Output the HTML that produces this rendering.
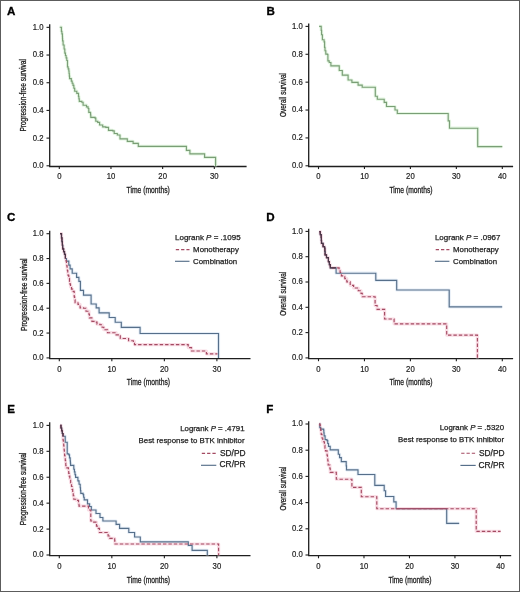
<!DOCTYPE html>
<html><head><meta charset="utf-8"><style>
html,body{margin:0;padding:0;background:#fff;}
body{width:520px;height:592px;overflow:hidden;}
svg{display:block;will-change:transform;}
text{font-family:"Liberation Sans",sans-serif;fill:#222;}
.tk{font-size:8.8px;stroke:#222;stroke-width:0.2px;}
.lg{font-size:7.85px;stroke:#222;stroke-width:0.25px;}
.lg2{font-size:8.4px;stroke:#222;stroke-width:0.25px;}
.tt{font-size:8.9px;stroke:#222;stroke-width:0.3px;}
.pl{font-size:11.6px;font-weight:bold;fill:#000;stroke:#000;stroke-width:0.3px;}
</style></head><body>
<svg width="520" height="592" viewBox="0 0 520 592">
<rect x="0" y="0" width="520" height="592" fill="#fff"/>
<g id="pA">
<path d="M49.70 24.20 V166.50 H246.60" fill="none" stroke="#1e1e1e" stroke-width="1.3"/>
<path d="M46.50 165.80 H49.70" stroke="#1e1e1e" stroke-width="1.1"/>
<text class="tk" transform="translate(43.50 168.25) scale(0.88 1)" text-anchor="end">0.0</text>
<path d="M46.50 138.11 H49.70" stroke="#1e1e1e" stroke-width="1.1"/>
<text class="tk" transform="translate(43.50 140.56) scale(0.88 1)" text-anchor="end">0.2</text>
<path d="M46.50 110.42 H49.70" stroke="#1e1e1e" stroke-width="1.1"/>
<text class="tk" transform="translate(43.50 112.87) scale(0.88 1)" text-anchor="end">0.4</text>
<path d="M46.50 82.73 H49.70" stroke="#1e1e1e" stroke-width="1.1"/>
<text class="tk" transform="translate(43.50 85.18) scale(0.88 1)" text-anchor="end">0.6</text>
<path d="M46.50 55.04 H49.70" stroke="#1e1e1e" stroke-width="1.1"/>
<text class="tk" transform="translate(43.50 57.49) scale(0.88 1)" text-anchor="end">0.8</text>
<path d="M46.50 27.35 H49.70" stroke="#1e1e1e" stroke-width="1.1"/>
<text class="tk" transform="translate(43.50 29.80) scale(0.88 1)" text-anchor="end">1.0</text>
<path d="M59.30 166.50 V169.10" stroke="#1e1e1e" stroke-width="1.1"/>
<text class="tk" transform="translate(59.30 179.40) scale(0.88 1)" text-anchor="middle">0</text>
<path d="M110.97 166.50 V169.10" stroke="#1e1e1e" stroke-width="1.1"/>
<text class="tk" transform="translate(110.97 179.40) scale(0.88 1)" text-anchor="middle">10</text>
<path d="M162.64 166.50 V169.10" stroke="#1e1e1e" stroke-width="1.1"/>
<text class="tk" transform="translate(162.64 179.40) scale(0.88 1)" text-anchor="middle">20</text>
<path d="M214.31 166.50 V169.10" stroke="#1e1e1e" stroke-width="1.1"/>
<text class="tk" transform="translate(214.31 179.40) scale(0.88 1)" text-anchor="middle">30</text>
<text class="tt" x="148.20" y="192.80" text-anchor="middle" textLength="43.2" lengthAdjust="spacingAndGlyphs">Time (months)</text>
<text class="tt" transform="translate(26.30 95.35) rotate(-90)" x="0" y="0" text-anchor="middle" textLength="72.5" lengthAdjust="spacingAndGlyphs">Progression-free survival</text>
<text class="pl" x="6.90" y="15.40">A</text>
<path d="M59.70 27.20 H61.40 V31.40 H61.90 V33.80 H62.40 V36.20 H62.50 V38.55 H62.60 V40.90 H63.10 V45.00 H64.10 V49.00 H64.80 V53.10 H65.45 V55.45 H66.10 V57.80 H66.80 V60.50 H67.50 V63.20 V66.80 H68.15 V68.90 H68.80 V71.00 H69.07 V73.53 H69.33 V76.07 H69.60 V78.60 H71.30 V81.10 H72.15 V83.20 H73.00 V85.30 H73.85 V88.25 H74.70 V91.20 H76.80 V93.40 H78.50 V96.30 H78.90 V98.85 H79.30 V101.40 H81.80 V102.20 H83.10 V105.20 H86.50 V106.90 H88.10 V108.50 H88.80 V112.30 H90.40 V112.70 H90.60 V115.00 H90.80 V117.30 H95.00 V118.10 H95.80 V121.20 H97.70 V122.30 H99.60 V125.00 H102.70 V126.90 H105.80 V127.30 H108.50 V130.40 H112.70 V130.80 H114.20 V133.50 H117.30 V135.00 H120.00 V138.80 H127.30 V139.20 V141.30 H133.10 V143.30 H138.30 V146.40 H186.40 V150.30 H189.90 V153.80 H204.60 V157.40 H215.60 V166.30" fill="none" stroke="#e4f6e2" stroke-width="3.2" stroke-linejoin="round"/>
<path d="M59.70 27.20 H61.40 V31.40 H61.90 V33.80 H62.40 V36.20 H62.50 V38.55 H62.60 V40.90 H63.10 V45.00 H64.10 V49.00 H64.80 V53.10 H65.45 V55.45 H66.10 V57.80 H66.80 V60.50 H67.50 V63.20 V66.80 H68.15 V68.90 H68.80 V71.00 H69.07 V73.53 H69.33 V76.07 H69.60 V78.60 H71.30 V81.10 H72.15 V83.20 H73.00 V85.30 H73.85 V88.25 H74.70 V91.20 H76.80 V93.40 H78.50 V96.30 H78.90 V98.85 H79.30 V101.40 H81.80 V102.20 H83.10 V105.20 H86.50 V106.90 H88.10 V108.50 H88.80 V112.30 H90.40 V112.70 H90.60 V115.00 H90.80 V117.30 H95.00 V118.10 H95.80 V121.20 H97.70 V122.30 H99.60 V125.00 H102.70 V126.90 H105.80 V127.30 H108.50 V130.40 H112.70 V130.80 H114.20 V133.50 H117.30 V135.00 H120.00 V138.80 H127.30 V139.20 V141.30 H133.10 V143.30 H138.30 V146.40 H186.40 V150.30 H189.90 V153.80 H204.60 V157.40 H215.60 V166.30" fill="none" stroke="#7a9e76" stroke-width="1.15"/>
</g>
<g id="pB">
<path d="M308.70 23.50 V166.50 H513.10" fill="none" stroke="#1e1e1e" stroke-width="1.3"/>
<path d="M305.50 165.80 H308.70" stroke="#1e1e1e" stroke-width="1.1"/>
<text class="tk" transform="translate(302.70 168.25) scale(0.88 1)" text-anchor="end">0.0</text>
<path d="M305.50 137.92 H308.70" stroke="#1e1e1e" stroke-width="1.1"/>
<text class="tk" transform="translate(302.70 140.37) scale(0.88 1)" text-anchor="end">0.2</text>
<path d="M305.50 110.04 H308.70" stroke="#1e1e1e" stroke-width="1.1"/>
<text class="tk" transform="translate(302.70 112.49) scale(0.88 1)" text-anchor="end">0.4</text>
<path d="M305.50 82.16 H308.70" stroke="#1e1e1e" stroke-width="1.1"/>
<text class="tk" transform="translate(302.70 84.61) scale(0.88 1)" text-anchor="end">0.6</text>
<path d="M305.50 54.28 H308.70" stroke="#1e1e1e" stroke-width="1.1"/>
<text class="tk" transform="translate(302.70 56.73) scale(0.88 1)" text-anchor="end">0.8</text>
<path d="M305.50 26.40 H308.70" stroke="#1e1e1e" stroke-width="1.1"/>
<text class="tk" transform="translate(302.70 28.85) scale(0.88 1)" text-anchor="end">1.0</text>
<path d="M318.50 166.50 V169.10" stroke="#1e1e1e" stroke-width="1.1"/>
<text class="tk" transform="translate(318.50 179.40) scale(0.88 1)" text-anchor="middle">0</text>
<path d="M364.45 166.50 V169.10" stroke="#1e1e1e" stroke-width="1.1"/>
<text class="tk" transform="translate(364.45 179.40) scale(0.88 1)" text-anchor="middle">10</text>
<path d="M410.40 166.50 V169.10" stroke="#1e1e1e" stroke-width="1.1"/>
<text class="tk" transform="translate(410.40 179.40) scale(0.88 1)" text-anchor="middle">20</text>
<path d="M456.35 166.50 V169.10" stroke="#1e1e1e" stroke-width="1.1"/>
<text class="tk" transform="translate(456.35 179.40) scale(0.88 1)" text-anchor="middle">30</text>
<path d="M502.30 166.50 V169.10" stroke="#1e1e1e" stroke-width="1.1"/>
<text class="tk" transform="translate(502.30 179.40) scale(0.88 1)" text-anchor="middle">40</text>
<text class="tt" x="411.00" y="192.90" text-anchor="middle" textLength="43.2" lengthAdjust="spacingAndGlyphs">Time (months)</text>
<text class="tt" transform="translate(285.60 95.00) rotate(-90)" x="0" y="0" text-anchor="middle" textLength="44.0" lengthAdjust="spacingAndGlyphs">Overall survival</text>
<text class="pl" x="266.50" y="15.40">B</text>
<path d="M319.10 26.40 H321.20 V30.40 H321.60 V34.70 H322.40 V39.70 H324.10 V41.80 H324.60 V47.30 H325.00 V50.70 H325.80 V54.10 H327.50 V54.50 H327.90 V60.90 H329.20 V62.50 H330.90 V65.90 H336.20 H339.25 V70.50 H342.30 V75.10 H345.70 H348.10 V80.00 H351.90 V82.30 H358.10 V85.10 H362.20 V87.20 H375.30 V96.20 H377.30 V99.20 H384.20 V102.30 H386.50 V106.50 H395.00 V110.00 H397.30 V113.50 H448.20 V120.80 H449.50 V128.20 H477.70 V146.60 H502.30" fill="none" stroke="#e4f6e2" stroke-width="3.2" stroke-linejoin="round"/>
<path d="M319.10 26.40 H321.20 V30.40 H321.60 V34.70 H322.40 V39.70 H324.10 V41.80 H324.60 V47.30 H325.00 V50.70 H325.80 V54.10 H327.50 V54.50 H327.90 V60.90 H329.20 V62.50 H330.90 V65.90 H336.20 H339.25 V70.50 H342.30 V75.10 H345.70 H348.10 V80.00 H351.90 V82.30 H358.10 V85.10 H362.20 V87.20 H375.30 V96.20 H377.30 V99.20 H384.20 V102.30 H386.50 V106.50 H395.00 V110.00 H397.30 V113.50 H448.20 V120.80 H449.50 V128.20 H477.70 V146.60 H502.30" fill="none" stroke="#7a9e76" stroke-width="1.15"/>
</g>
<g id="pC">
<path d="M49.70 230.80 V358.60 H250.50" fill="none" stroke="#1e1e1e" stroke-width="1.3"/>
<path d="M46.50 357.90 H49.70" stroke="#1e1e1e" stroke-width="1.1"/>
<text class="tk" transform="translate(43.50 360.35) scale(0.88 1)" text-anchor="end">0.0</text>
<path d="M46.50 333.06 H49.70" stroke="#1e1e1e" stroke-width="1.1"/>
<text class="tk" transform="translate(43.50 335.51) scale(0.88 1)" text-anchor="end">0.2</text>
<path d="M46.50 308.22 H49.70" stroke="#1e1e1e" stroke-width="1.1"/>
<text class="tk" transform="translate(43.50 310.67) scale(0.88 1)" text-anchor="end">0.4</text>
<path d="M46.50 283.38 H49.70" stroke="#1e1e1e" stroke-width="1.1"/>
<text class="tk" transform="translate(43.50 285.83) scale(0.88 1)" text-anchor="end">0.6</text>
<path d="M46.50 258.54 H49.70" stroke="#1e1e1e" stroke-width="1.1"/>
<text class="tk" transform="translate(43.50 260.99) scale(0.88 1)" text-anchor="end">0.8</text>
<path d="M46.50 233.70 H49.70" stroke="#1e1e1e" stroke-width="1.1"/>
<text class="tk" transform="translate(43.50 236.15) scale(0.88 1)" text-anchor="end">1.0</text>
<path d="M59.30 358.60 V361.20" stroke="#1e1e1e" stroke-width="1.1"/>
<text class="tk" transform="translate(59.30 371.50) scale(0.88 1)" text-anchor="middle">0</text>
<path d="M111.83 358.60 V361.20" stroke="#1e1e1e" stroke-width="1.1"/>
<text class="tk" transform="translate(111.83 371.50) scale(0.88 1)" text-anchor="middle">10</text>
<path d="M164.36 358.60 V361.20" stroke="#1e1e1e" stroke-width="1.1"/>
<text class="tk" transform="translate(164.36 371.50) scale(0.88 1)" text-anchor="middle">20</text>
<path d="M216.89 358.60 V361.20" stroke="#1e1e1e" stroke-width="1.1"/>
<text class="tk" transform="translate(216.89 371.50) scale(0.88 1)" text-anchor="middle">30</text>
<text class="tt" x="148.40" y="384.70" text-anchor="middle" textLength="43.2" lengthAdjust="spacingAndGlyphs">Time (months)</text>
<text class="tt" transform="translate(26.60 294.70) rotate(-90)" x="0" y="0" text-anchor="middle" textLength="72.5" lengthAdjust="spacingAndGlyphs">Progression-free survival</text>
<text class="pl" x="6.90" y="220.50">C</text>
<path d="M60.00 233.70 H61.50 V237.90 H61.95 V241.55 H62.40 V245.20 H62.70 V248.80 H63.60 V251.55 H64.50 V254.30 H65.40 V258.50 H66.40 V261.10 H68.80 V265.10 H70.10 V268.90 H72.20 V273.20 H76.60 V277.30 H78.90 V281.40 H80.40 V290.30 H83.50 V295.10 H91.10 V304.00 H96.20 V307.80 H99.10 V312.80 H109.20 V317.50 H115.20 V322.20 H121.30 V327.40 H140.10 V333.50 H218.50 V358.00" fill="none" stroke="#e6eef7" stroke-width="3.2" stroke-linejoin="round"/>
<path d="M60.00 233.70 H61.50 V237.90 H61.95 V241.55 H62.40 V245.20 H62.70 V248.80 H63.60 V251.55 H64.50 V254.30 H65.40 V258.50 H66.10 V261.00 H66.45 V263.40 H66.80 V265.80 H67.10 V268.15 H67.40 V270.50 H67.75 V272.90 H68.10 V275.30 H68.80 V278.35 H69.50 V281.40 H70.00 V284.10 H70.50 V286.80 H71.50 V289.05 H72.50 V291.30 H74.20 V293.40 V296.80 H74.65 V299.75 H75.10 V302.70 H78.00 V304.40 H80.10 V307.80 H83.50 V308.20 H86.00 V311.20 H89.00 V314.50 H89.40 V317.90 H91.90 V321.30 H95.30 V322.10 H97.00 V324.20 H100.00 V324.70 H102.10 V327.20 H103.80 V329.70 H107.50 V330.20 V332.70 H116.10 V334.80 H119.20 V335.90 H120.30 V338.50 H127.90 H128.60 V340.70 H133.40 V341.40 H134.50 V344.60 H188.20 V347.60 H191.50 V351.00 H206.40 V353.80 H217.50" fill="none" stroke="#f9dde5" stroke-width="3.2" stroke-linejoin="round"/>
<path d="M60.00 233.70 H61.50 V237.90 H61.95 V241.55 H62.40 V245.20 H62.70 V248.80 H63.60 V251.55 H64.50 V254.30 H65.40 V258.50 H66.40 V261.10 H68.80 V265.10 H70.10 V268.90 H72.20 V273.20 H76.60 V277.30 H78.90 V281.40 H80.40 V290.30 H83.50 V295.10 H91.10 V304.00 H96.20 V307.80 H99.10 V312.80 H109.20 V317.50 H115.20 V322.20 H121.30 V327.40 H140.10 V333.50 H218.50 V358.00" fill="none" stroke="#566f8a" stroke-width="1.15"/>
<path d="M60.00 233.70 H61.50 V237.90 H61.95 V241.55 H62.40 V245.20 H62.70 V248.80 H63.60 V251.55 H64.50 V254.30 H65.40 V258.50 H66.10 V261.00 H66.45 V263.40 H66.80 V265.80 H67.10 V268.15 H67.40 V270.50 H67.75 V272.90 H68.10 V275.30 H68.80 V278.35 H69.50 V281.40 H70.00 V284.10 H70.50 V286.80 H71.50 V289.05 H72.50 V291.30 H74.20 V293.40 V296.80 H74.65 V299.75 H75.10 V302.70 H78.00 V304.40 H80.10 V307.80 H83.50 V308.20 H86.00 V311.20 H89.00 V314.50 H89.40 V317.90 H91.90 V321.30 H95.30 V322.10 H97.00 V324.20 H100.00 V324.70 H102.10 V327.20 H103.80 V329.70 H107.50 V330.20 V332.70 H116.10 V334.80 H119.20 V335.90 H120.30 V338.50 H127.90 H128.60 V340.70 H133.40 V341.40 H134.50 V344.60 H188.20 V347.60 H191.50 V351.00 H206.40 V353.80 H217.50" fill="none" stroke="#a44a62" stroke-width="1.15" stroke-dasharray="3.4 2"/>
<path d="M60.00 233.70 H61.50 V237.90 H61.95 V241.55 H62.40 V245.20 H62.70 V248.80 H63.60 V251.55 H64.50 V254.30 H65.40 V258.50" fill="none" stroke="#4a3646" stroke-width="1.2"/>
</g>
<g id="pD">
<path d="M308.70 228.70 V358.60 H513.10" fill="none" stroke="#1e1e1e" stroke-width="1.3"/>
<path d="M305.50 357.90 H308.70" stroke="#1e1e1e" stroke-width="1.1"/>
<text class="tk" transform="translate(302.70 360.35) scale(0.88 1)" text-anchor="end">0.0</text>
<path d="M305.50 332.60 H308.70" stroke="#1e1e1e" stroke-width="1.1"/>
<text class="tk" transform="translate(302.70 335.05) scale(0.88 1)" text-anchor="end">0.2</text>
<path d="M305.50 307.30 H308.70" stroke="#1e1e1e" stroke-width="1.1"/>
<text class="tk" transform="translate(302.70 309.75) scale(0.88 1)" text-anchor="end">0.4</text>
<path d="M305.50 282.00 H308.70" stroke="#1e1e1e" stroke-width="1.1"/>
<text class="tk" transform="translate(302.70 284.45) scale(0.88 1)" text-anchor="end">0.6</text>
<path d="M305.50 256.70 H308.70" stroke="#1e1e1e" stroke-width="1.1"/>
<text class="tk" transform="translate(302.70 259.15) scale(0.88 1)" text-anchor="end">0.8</text>
<path d="M305.50 231.40 H308.70" stroke="#1e1e1e" stroke-width="1.1"/>
<text class="tk" transform="translate(302.70 233.85) scale(0.88 1)" text-anchor="end">1.0</text>
<path d="M318.50 358.60 V361.20" stroke="#1e1e1e" stroke-width="1.1"/>
<text class="tk" transform="translate(318.50 371.50) scale(0.88 1)" text-anchor="middle">0</text>
<path d="M364.45 358.60 V361.20" stroke="#1e1e1e" stroke-width="1.1"/>
<text class="tk" transform="translate(364.45 371.50) scale(0.88 1)" text-anchor="middle">10</text>
<path d="M410.40 358.60 V361.20" stroke="#1e1e1e" stroke-width="1.1"/>
<text class="tk" transform="translate(410.40 371.50) scale(0.88 1)" text-anchor="middle">20</text>
<path d="M456.35 358.60 V361.20" stroke="#1e1e1e" stroke-width="1.1"/>
<text class="tk" transform="translate(456.35 371.50) scale(0.88 1)" text-anchor="middle">30</text>
<path d="M502.30 358.60 V361.20" stroke="#1e1e1e" stroke-width="1.1"/>
<text class="tk" transform="translate(502.30 371.50) scale(0.88 1)" text-anchor="middle">40</text>
<text class="tt" x="411.00" y="384.70" text-anchor="middle" textLength="43.2" lengthAdjust="spacingAndGlyphs">Time (months)</text>
<text class="tt" transform="translate(285.60 293.65) rotate(-90)" x="0" y="0" text-anchor="middle" textLength="44.0" lengthAdjust="spacingAndGlyphs">Overall survival</text>
<text class="pl" x="266.30" y="220.50">D</text>
<path d="M319.30 231.60 H320.25 V234.55 H321.20 V237.50 H321.35 V240.40 H321.50 V243.30 H323.10 V246.70 H324.60 V248.10 H324.85 V251.45 H325.10 V254.80 H326.50 V257.70 H328.40 V261.60 H329.35 V264.70 H330.30 V267.80 H336.10 V273.20 H375.80 V280.30 H396.70 V290.00 H449.20 V306.80 H502.20" fill="none" stroke="#e6eef7" stroke-width="3.2" stroke-linejoin="round"/>
<path d="M319.30 231.60 H320.25 V234.55 H321.20 V237.50 H321.35 V240.40 H321.50 V243.30 H323.10 V246.70 H324.60 V248.10 H324.85 V251.45 H325.10 V254.80 H326.50 V257.70 H328.40 V261.60 H329.35 V264.70 H330.30 V267.80 H338.10 H339.10 V270.15 H340.10 V272.50 H341.40 V275.90 H344.80 V278.60 H346.80 V281.90 H350.20 V285.30 H353.60 V288.00 H358.30 V290.70 H361.00 V293.40 H362.30 V296.70 H375.10 V305.50 H377.10 V309.40 H384.60 V319.00 H394.10 V323.80 H446.70 V335.10 H477.40 V358.20" fill="none" stroke="#f9dde5" stroke-width="3.2" stroke-linejoin="round"/>
<path d="M319.30 231.60 H320.25 V234.55 H321.20 V237.50 H321.35 V240.40 H321.50 V243.30 H323.10 V246.70 H324.60 V248.10 H324.85 V251.45 H325.10 V254.80 H326.50 V257.70 H328.40 V261.60 H329.35 V264.70 H330.30 V267.80 H336.10 V273.20 H375.80 V280.30 H396.70 V290.00 H449.20 V306.80 H502.20" fill="none" stroke="#566f8a" stroke-width="1.15"/>
<path d="M319.30 231.60 H320.25 V234.55 H321.20 V237.50 H321.35 V240.40 H321.50 V243.30 H323.10 V246.70 H324.60 V248.10 H324.85 V251.45 H325.10 V254.80 H326.50 V257.70 H328.40 V261.60 H329.35 V264.70 H330.30 V267.80 H338.10 H339.10 V270.15 H340.10 V272.50 H341.40 V275.90 H344.80 V278.60 H346.80 V281.90 H350.20 V285.30 H353.60 V288.00 H358.30 V290.70 H361.00 V293.40 H362.30 V296.70 H375.10 V305.50 H377.10 V309.40 H384.60 V319.00 H394.10 V323.80 H446.70 V335.10 H477.40 V358.20" fill="none" stroke="#a44a62" stroke-width="1.15" stroke-dasharray="3.4 2"/>
<path d="M319.30 231.60 H320.25 V234.55 H321.20 V237.50 H321.35 V240.40 H321.50 V243.30 H323.10 V246.70 H324.60 V248.10 H324.85 V251.45 H325.10 V254.80 H326.50 V257.70 H328.40 V261.60 H329.35 V264.70 H330.30 V267.80 H336.10" fill="none" stroke="#4a3646" stroke-width="1.2"/>
</g>
<g id="pE">
<path d="M49.70 422.20 V555.70 H250.50" fill="none" stroke="#1e1e1e" stroke-width="1.3"/>
<path d="M46.50 555.00 H49.70" stroke="#1e1e1e" stroke-width="1.1"/>
<text class="tk" transform="translate(43.50 557.45) scale(0.88 1)" text-anchor="end">0.0</text>
<path d="M46.50 529.08 H49.70" stroke="#1e1e1e" stroke-width="1.1"/>
<text class="tk" transform="translate(43.50 531.53) scale(0.88 1)" text-anchor="end">0.2</text>
<path d="M46.50 503.16 H49.70" stroke="#1e1e1e" stroke-width="1.1"/>
<text class="tk" transform="translate(43.50 505.61) scale(0.88 1)" text-anchor="end">0.4</text>
<path d="M46.50 477.24 H49.70" stroke="#1e1e1e" stroke-width="1.1"/>
<text class="tk" transform="translate(43.50 479.69) scale(0.88 1)" text-anchor="end">0.6</text>
<path d="M46.50 451.32 H49.70" stroke="#1e1e1e" stroke-width="1.1"/>
<text class="tk" transform="translate(43.50 453.77) scale(0.88 1)" text-anchor="end">0.8</text>
<path d="M46.50 425.40 H49.70" stroke="#1e1e1e" stroke-width="1.1"/>
<text class="tk" transform="translate(43.50 427.85) scale(0.88 1)" text-anchor="end">1.0</text>
<path d="M59.30 555.70 V558.30" stroke="#1e1e1e" stroke-width="1.1"/>
<text class="tk" transform="translate(59.30 568.60) scale(0.88 1)" text-anchor="middle">0</text>
<path d="M111.83 555.70 V558.30" stroke="#1e1e1e" stroke-width="1.1"/>
<text class="tk" transform="translate(111.83 568.60) scale(0.88 1)" text-anchor="middle">10</text>
<path d="M164.36 555.70 V558.30" stroke="#1e1e1e" stroke-width="1.1"/>
<text class="tk" transform="translate(164.36 568.60) scale(0.88 1)" text-anchor="middle">20</text>
<path d="M216.89 555.70 V558.30" stroke="#1e1e1e" stroke-width="1.1"/>
<text class="tk" transform="translate(216.89 568.60) scale(0.88 1)" text-anchor="middle">30</text>
<text class="tt" x="148.40" y="582.50" text-anchor="middle" textLength="43.2" lengthAdjust="spacingAndGlyphs">Time (months)</text>
<text class="tt" transform="translate(26.40 488.95) rotate(-90)" x="0" y="0" text-anchor="middle" textLength="72.5" lengthAdjust="spacingAndGlyphs">Progression-free survival</text>
<text class="pl" x="7.30" y="412.80">E</text>
<path d="M60.30 425.30 H60.97 V428.02 H61.65 V430.75 H62.33 V433.48 H63.00 V436.20 H65.20 V442.20 H67.20 V445.40 V453.80 H68.80 V454.80 H69.50 V457.80 H70.20 V460.80 H70.40 V463.10 H70.60 V465.40 H73.80 V469.20 H74.40 V471.90 H75.00 V474.60 H75.60 V477.30 H77.90 V480.80 H79.05 V484.25 H80.20 V487.70 H80.50 V490.55 H80.80 V493.40 H83.10 V494.60 H83.65 V497.20 H84.20 V499.80 H87.50 V503.90 H89.60 V506.50 H91.30 V510.00 H96.00 V513.50 H100.00 V517.50 H102.90 V521.00 H116.10 V524.40 H119.60 V528.40 H128.80 V532.50 H134.60 V537.00 H140.30 V541.80 H188.30 V545.40 H192.10 V550.40 H207.30 V555.20" fill="none" stroke="#e6eef7" stroke-width="3.2" stroke-linejoin="round"/>
<path d="M60.30 425.30 H60.97 V428.02 H61.65 V430.75 H62.33 V433.48 H63.00 V436.20 V440.00 H63.35 V442.70 H63.70 V445.40 H63.90 V447.70 H64.10 V450.00 H64.35 V452.70 H64.60 V455.40 H64.93 V457.97 H65.27 V460.53 H65.60 V463.10 H65.80 V465.50 H66.00 V467.90 H68.20 H68.45 V470.60 H68.70 V473.30 H69.25 V476.15 H69.80 V479.00 H70.65 V482.75 H71.50 V486.50 H72.10 V489.40 H72.70 V492.30 H73.25 V495.75 H73.80 V499.20 H76.70 V500.40 H78.50 V503.80 H79.00 V506.10 H86.00 H88.50 V510.00 H90.80 V511.10 V521.00 H93.70 V522.10 H96.00 H96.50 V526.10 H98.30 V528.40 H99.40 V532.50 H106.30 H108.10 V536.00 H109.20 V538.30 H114.40 H114.70 V541.15 H115.00 V544.00 H218.60 V555.20" fill="none" stroke="#f9dde5" stroke-width="3.2" stroke-linejoin="round"/>
<path d="M60.30 425.30 H60.97 V428.02 H61.65 V430.75 H62.33 V433.48 H63.00 V436.20 H65.20 V442.20 H67.20 V445.40 V453.80 H68.80 V454.80 H69.50 V457.80 H70.20 V460.80 H70.40 V463.10 H70.60 V465.40 H73.80 V469.20 H74.40 V471.90 H75.00 V474.60 H75.60 V477.30 H77.90 V480.80 H79.05 V484.25 H80.20 V487.70 H80.50 V490.55 H80.80 V493.40 H83.10 V494.60 H83.65 V497.20 H84.20 V499.80 H87.50 V503.90 H89.60 V506.50 H91.30 V510.00 H96.00 V513.50 H100.00 V517.50 H102.90 V521.00 H116.10 V524.40 H119.60 V528.40 H128.80 V532.50 H134.60 V537.00 H140.30 V541.80 H188.30 V545.40 H192.10 V550.40 H207.30 V555.20" fill="none" stroke="#566f8a" stroke-width="1.15"/>
<path d="M60.30 425.30 H60.97 V428.02 H61.65 V430.75 H62.33 V433.48 H63.00 V436.20 V440.00 H63.35 V442.70 H63.70 V445.40 H63.90 V447.70 H64.10 V450.00 H64.35 V452.70 H64.60 V455.40 H64.93 V457.97 H65.27 V460.53 H65.60 V463.10 H65.80 V465.50 H66.00 V467.90 H68.20 H68.45 V470.60 H68.70 V473.30 H69.25 V476.15 H69.80 V479.00 H70.65 V482.75 H71.50 V486.50 H72.10 V489.40 H72.70 V492.30 H73.25 V495.75 H73.80 V499.20 H76.70 V500.40 H78.50 V503.80 H79.00 V506.10 H86.00 H88.50 V510.00 H90.80 V511.10 V521.00 H93.70 V522.10 H96.00 H96.50 V526.10 H98.30 V528.40 H99.40 V532.50 H106.30 H108.10 V536.00 H109.20 V538.30 H114.40 H114.70 V541.15 H115.00 V544.00 H218.60 V555.20" fill="none" stroke="#a44a62" stroke-width="1.15" stroke-dasharray="3.4 2"/>
<path d="M60.30 425.30 H60.97 V428.02 H61.65 V430.75 H62.33 V433.48 H63.00 V436.20" fill="none" stroke="#4a3646" stroke-width="1.2"/>
</g>
<g id="pF">
<path d="M308.70 421.20 V555.70 H511.20" fill="none" stroke="#1e1e1e" stroke-width="1.3"/>
<path d="M305.50 555.00 H308.70" stroke="#1e1e1e" stroke-width="1.1"/>
<text class="tk" transform="translate(302.70 557.45) scale(0.88 1)" text-anchor="end">0.0</text>
<path d="M305.50 528.80 H308.70" stroke="#1e1e1e" stroke-width="1.1"/>
<text class="tk" transform="translate(302.70 531.25) scale(0.88 1)" text-anchor="end">0.2</text>
<path d="M305.50 502.60 H308.70" stroke="#1e1e1e" stroke-width="1.1"/>
<text class="tk" transform="translate(302.70 505.05) scale(0.88 1)" text-anchor="end">0.4</text>
<path d="M305.50 476.40 H308.70" stroke="#1e1e1e" stroke-width="1.1"/>
<text class="tk" transform="translate(302.70 478.85) scale(0.88 1)" text-anchor="end">0.6</text>
<path d="M305.50 450.20 H308.70" stroke="#1e1e1e" stroke-width="1.1"/>
<text class="tk" transform="translate(302.70 452.65) scale(0.88 1)" text-anchor="end">0.8</text>
<path d="M305.50 424.00 H308.70" stroke="#1e1e1e" stroke-width="1.1"/>
<text class="tk" transform="translate(302.70 426.45) scale(0.88 1)" text-anchor="end">1.0</text>
<path d="M318.50 555.70 V558.30" stroke="#1e1e1e" stroke-width="1.1"/>
<text class="tk" transform="translate(318.50 568.60) scale(0.88 1)" text-anchor="middle">0</text>
<path d="M363.98 555.70 V558.30" stroke="#1e1e1e" stroke-width="1.1"/>
<text class="tk" transform="translate(363.98 568.60) scale(0.88 1)" text-anchor="middle">10</text>
<path d="M409.46 555.70 V558.30" stroke="#1e1e1e" stroke-width="1.1"/>
<text class="tk" transform="translate(409.46 568.60) scale(0.88 1)" text-anchor="middle">20</text>
<path d="M454.94 555.70 V558.30" stroke="#1e1e1e" stroke-width="1.1"/>
<text class="tk" transform="translate(454.94 568.60) scale(0.88 1)" text-anchor="middle">30</text>
<path d="M500.42 555.70 V558.30" stroke="#1e1e1e" stroke-width="1.1"/>
<text class="tk" transform="translate(500.42 568.60) scale(0.88 1)" text-anchor="middle">40</text>
<text class="tt" x="410.00" y="582.60" text-anchor="middle" textLength="43.2" lengthAdjust="spacingAndGlyphs">Time (months)</text>
<text class="tt" transform="translate(285.60 488.45) rotate(-90)" x="0" y="0" text-anchor="middle" textLength="44.0" lengthAdjust="spacingAndGlyphs">Overall survival</text>
<text class="pl" x="266.30" y="412.80">F</text>
<path d="M319.30 423.80 H319.80 V427.60 H320.70 V429.10 H323.60 V430.00 H323.85 V432.90 H324.10 V435.80 H325.10 V439.60 H327.00 V440.60 H327.75 V443.50 H328.50 V446.40 H330.20 V449.80 H338.30 V454.20 H339.60 V457.60 H341.30 V461.60 H345.60 H346.20 V465.80 H346.50 V469.80 H358.00 V474.50 H374.80 V485.30 H384.20 V490.70 H385.60 V496.50 H393.80 V501.90 H396.10 V508.70 H446.70 V523.30 H459.20" fill="none" stroke="#e6eef7" stroke-width="3.2" stroke-linejoin="round"/>
<path d="M319.30 423.80 H319.80 V424.80 H320.25 V427.65 H320.70 V430.50 H321.20 V434.30 H322.00 V438.00 H322.80 V441.70 H324.40 V445.40 H324.95 V448.10 H325.50 V450.80 H327.10 V455.50 H327.45 V458.25 H327.80 V461.00 H328.20 V465.00 H329.90 V468.40 H330.20 V472.40 H336.30 V479.20 H351.90 V487.30 H361.30 V496.70 H376.80 V508.70 H476.20 V531.30 H500.60" fill="none" stroke="#f9dde5" stroke-width="3.2" stroke-linejoin="round"/>
<path d="M319.30 423.80 H319.80 V427.60 H320.70 V429.10 H323.60 V430.00 H323.85 V432.90 H324.10 V435.80 H325.10 V439.60 H327.00 V440.60 H327.75 V443.50 H328.50 V446.40 H330.20 V449.80 H338.30 V454.20 H339.60 V457.60 H341.30 V461.60 H345.60 H346.20 V465.80 H346.50 V469.80 H358.00 V474.50 H374.80 V485.30 H384.20 V490.70 H385.60 V496.50 H393.80 V501.90 H396.10 V508.70 H446.70 V523.30 H459.20" fill="none" stroke="#566f8a" stroke-width="1.15"/>
<path d="M319.30 423.80 H319.80 V424.80 H320.25 V427.65 H320.70 V430.50 H321.20 V434.30 H322.00 V438.00 H322.80 V441.70 H324.40 V445.40 H324.95 V448.10 H325.50 V450.80 H327.10 V455.50 H327.45 V458.25 H327.80 V461.00 H328.20 V465.00 H329.90 V468.40 H330.20 V472.40 H336.30 V479.20 H351.90 V487.30 H361.30 V496.70 H376.80 V508.70 H476.20 V531.30 H500.60" fill="none" stroke="#a44a62" stroke-width="1.15" stroke-dasharray="3.4 2"/>
<path d="M396.10 508.70 H446.70" fill="none" stroke="#a0506a" stroke-width="1.2"/>
</g>
<text class="lg" x="175.0" y="240.4" textLength="65.6" lengthAdjust="spacingAndGlyphs">Logrank <tspan font-style="italic">P</tspan> = .1095</text><path d="M175.8 249.6 H189.5" stroke="#a44a62" stroke-width="1.15" stroke-dasharray="3.3 2"/><text class="lg" x="193.1" y="252.4">Monotherapy</text><path d="M175.0 261.3 H189.5" stroke="#566f8a" stroke-width="1.15"/><text class="lg" x="193.1" y="263.8">Combination</text><text class="lg" x="434.9" y="240.4" textLength="65.6" lengthAdjust="spacingAndGlyphs">Logrank <tspan font-style="italic">P</tspan> = .0967</text><path d="M435.7 249.6 H449.4" stroke="#a44a62" stroke-width="1.15" stroke-dasharray="3.3 2"/><text class="lg" x="453.0" y="252.4">Monotherapy</text><path d="M434.9 261.3 H449.4" stroke="#566f8a" stroke-width="1.15"/><text class="lg" x="453.0" y="263.8">Combination</text><text class="lg" x="244.5" y="430.6" text-anchor="end">Logrank <tspan font-style="italic">P</tspan> = .4791</text><text class="lg" x="244.5" y="443.1" text-anchor="end">Best response to BTK inhibitor</text><path d="M201.8 453.4 H216.3" stroke="#a44a62" stroke-width="1.15" stroke-dasharray="3.3 2"/><text class="lg2" x="245.6" y="455.7" text-anchor="end">SD/PD</text><path d="M201.0 465.3 H216.3" stroke="#566f8a" stroke-width="1.15"/><text class="lg2" x="245.6" y="467.4" text-anchor="end">CR/PR</text><text class="lg" x="504.0" y="430.1" text-anchor="end">Logrank <tspan font-style="italic">P</tspan> = .5320</text><text class="lg" x="504.0" y="441.8" text-anchor="end">Best response to BTK inhibitor</text><path d="M461.2 453.2 H475.7" stroke="#a44a62" stroke-width="1.15" stroke-dasharray="3.3 2"/><text class="lg2" x="504.6" y="455.5" text-anchor="end">SD/PD</text><path d="M460.4 465.4 H475.7" stroke="#566f8a" stroke-width="1.15"/><text class="lg2" x="504.6" y="467.5" text-anchor="end">CR/PR</text><rect x="0.5" y="0.5" width="519" height="591" fill="none" stroke="#5c5c5c" stroke-width="1"/></svg>
</body></html>
